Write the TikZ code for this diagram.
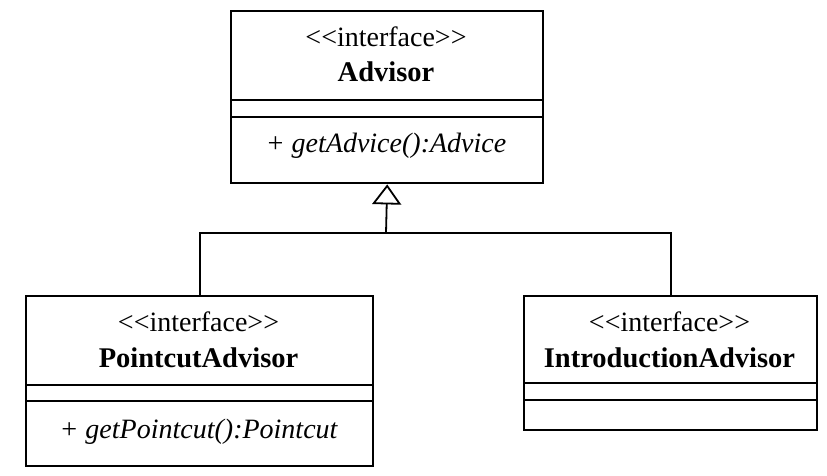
\documentclass[tikz,border=0pt]{standalone}
\usepackage{fontspec}
\setmainfont{Liberation Serif}
\usetikzlibrary{arrows.meta}
\begin{document}
\begin{tikzpicture}[x=1pt,y=1pt,
  classbox/.style={draw=black, line width=2.4pt, anchor=north west, inner sep=0pt},
  divider/.style={draw=black, line width=1.8pt},
  conn/.style={draw=black, line width=1.8pt},
  txt/.style={inner sep=0pt, font=\fontsize{28}{31}\selectfont},
  stereo/.style={txt},
  cname/.style={txt, font=\fontsize{28.5}{31}\selectfont\bfseries},
  meth/.style={txt, font=\fontsize{28}{31}\selectfont\itshape}]
\useasboundingbox[fill=white] (0,0) rectangle (827,-476);
% Advisor
\node[classbox, minimum width=312pt, minimum height=172pt] (adv) at (230,-10) {};
\draw[divider] (230,-100) -- (542,-100);
\draw[divider] (230,-117) -- (542,-117);
\node[stereo] (advs) at (386,-37) {<{}<interface>{}>};
\node[cname] (advn) at (386,-72) {Advisor};
\node[meth] (advm) at (386,-146) {+ getAdvice():Advice};
% PointcutAdvisor
\node[classbox, minimum width=347pt, minimum height=170pt] (pa) at (25,-295) {};
\draw[divider] (25,-385) -- (372,-385);
\draw[divider] (25,-401) -- (372,-401);
\node[stereo] (pas) at (198.5,-322) {<{}<interface>{}>};
\node[cname] (pan) at (198.5,-358) {PointcutAdvisor};
\node[meth] (pam) at (198.5,-432) {+ getPointcut():Pointcut};
% IntroductionAdvisor
\node[classbox, minimum width=293pt, minimum height=134pt] (ia) at (523,-295) {};
\draw[divider] (523,-383) -- (816,-383);
\draw[divider] (523,-400) -- (816,-400);
\node[stereo] (ias) at (669.5,-322) {<{}<interface>{}>};
\node[cname] (ian) at (669.5,-358) {IntroductionAdvisor};
% connectors
\coordinate (j) at (386,-233);
\draw[conn, -{Triangle[open, length=20pt, width=29pt, line width=1.8pt]}] (j) -- (adv.south);
\draw[conn] (pa.north) |- (j) -| (ia.north);
\end{tikzpicture}
\end{document}
